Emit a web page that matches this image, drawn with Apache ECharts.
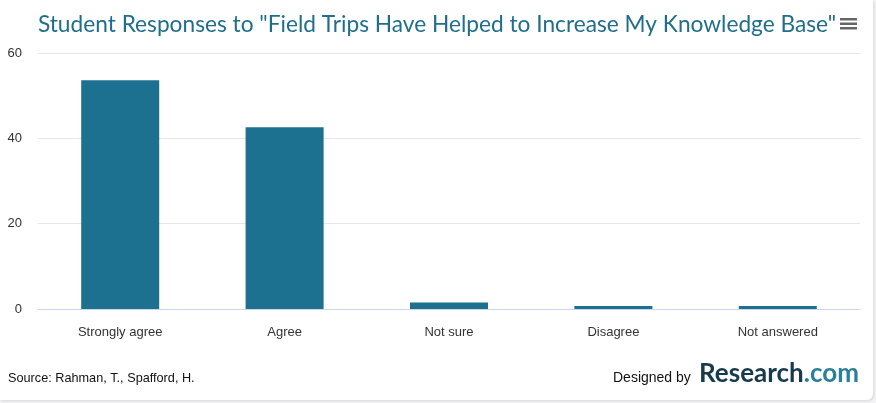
<!DOCTYPE html>
<html><head><meta charset="utf-8">
<script src="https://cdn.jsdelivr.net/npm/echarts@6/dist/echarts.min.js"></script>
<style>
html,body{margin:0;padding:0;background:#f4f4f6;}
#wrap{position:absolute;left:0;top:0;width:873px;height:400px;background:#fff;border-radius:0 0 6px 0;box-shadow:1px 1px 3px rgba(0,0,0,0.12);}
#chart{position:absolute;left:0;top:0;width:876px;height:403px;}
</style></head>
<body>
<div id="wrap"></div>
<div id="chart"></div>
<script>
const categories = ["Strongly agree","Agree","Not sure","Disagree","Not answered"];
const values = [53.6, 42.6, 1.5, 0.7, 0.7];
const yTicks = [0, 20, 40, 60];
const titleText = 'Student Responses to "Field Trips Have Helped to Increase My Knowledge Base"';
const sourceText = 'Source: Rahman, T., Spafford, H.';

const chart = echarts.init(document.getElementById('chart'), null, {renderer:'canvas'});
chart.setOption({
  backgroundColor: 'transparent',
  animation: false,
  title: {
    text: titleText,
    left: 432, top: 8, textAlign: 'center',
    textStyle: {fontFamily: 'Lato', fontWeight: 'normal', fontSize: 22.7, color: '#1f6e8c'}
  },
  grid: {left: 38, right: 16, top: 53, bottom: 94},
  xAxis: {
    type: 'category', data: categories,
    axisLine: {lineStyle: {color: '#ccd6eb'}},
    axisTick: {show: false},
    axisLabel: {color: '#333', fontSize: 13, fontFamily: 'Liberation Sans', margin: 17}
  },
  yAxis: {
    type: 'value', min: yTicks[0], max: yTicks[yTicks.length-1], interval: 20,
    axisLabel: {color: '#333', fontSize: 13, fontFamily: 'Liberation Sans', margin: 16, align: 'right'},
    splitLine: {lineStyle: {color: '#e6e6e6'}},
    axisLine: {show: false}, axisTick: {show: false}
  },
  series: [{
    type: 'bar', data: values, barWidth: 78,
    itemStyle: {color: '#1c7190'}
  }],
  graphic: [
    {type: 'group', left: 840, top: 18, children: [
      {type: 'rect', shape: {x:0,y:0,width:17,height:2.5}, style:{fill:'#666'}},
      {type: 'rect', shape: {x:0,y:4.5,width:17,height:2.5}, style:{fill:'#666'}},
      {type: 'rect', shape: {x:0,y:9,width:17,height:2.5}, style:{fill:'#666'}}
    ]},
    {type: 'text', left: 8, top: 372, style: {text: sourceText, font: '12.7px "Liberation Sans"', fill: '#111'}},
    {type: 'text', left: 613, top: 371, style: {text: 'Designed by', font: '14px "Liberation Sans"', fill: '#111'}},
    {type: 'text', left: 699, top: 361, style: {
      rich: {a: {font: 'bold 26px "Lato"', fill: '#173a4c'}, b: {font: 'bold 26px "Lato"', fill: '#2a7f9c'}},
      text: '{a|Research}{b|.com}'
    }}
  ]
});
</script>
</body></html>
